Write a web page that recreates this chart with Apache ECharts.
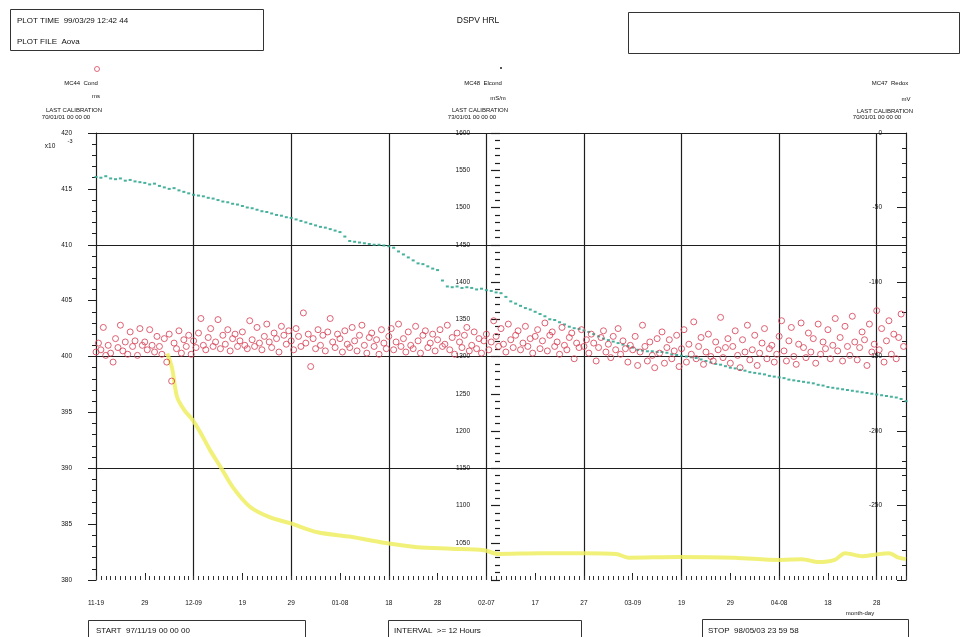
<!DOCTYPE html>
<html>
<head>
<meta charset="utf-8">
<title>DSPV HRL</title>
<script src="https://cdn.jsdelivr.net/npm/echarts@6/dist/echarts.min.js"></script>
<style>
  html, body { margin: 0; padding: 0; background: #ffffff; }
  #chart { width: 963px; height: 637px; }
</style>
</head>
<body>
<div id="chart"></div>
<script>
// Plot period: 97/11/19 00:00 to 98/05/03 23:59, x axis counted in days from start
const START_UTC = Date.UTC(1997, 10, 19);
const PERIOD_DAYS = 166;

// MC44 Cond (x10^-3), sampled every 12 hours from the start
const condStepDays = 0.5;
const condValues = [
  400.4, 401.2, 400.6, 402.6, 400.1, 401.0, 400.3, 399.5, 401.6, 400.8, 402.8, 400.5, 401.3, 400.2, 402.2, 400.9, 401.4, 400.1, 402.5, 401.0,
  401.3, 400.6, 402.4, 401.0, 400.4, 401.8, 400.9, 400.2, 401.6, 399.5, 402.0, 397.8, 401.2, 400.7, 402.3, 400.3, 401.5, 400.9, 401.9, 400.2,
  401.4, 400.8, 402.1, 403.4, 401.0, 400.6, 401.7, 402.5, 400.9, 401.3, 403.3, 400.7, 401.9, 401.1, 402.4, 400.5, 401.6, 402.0, 400.9, 401.4,
  402.2, 401.0, 400.7, 403.2, 401.5, 400.9, 402.6, 401.2, 400.6, 401.8, 402.9, 401.3, 400.8, 402.1, 401.6, 400.4, 402.7, 401.9, 401.1, 402.3,
  401.4, 400.6, 402.5, 401.8, 400.9, 403.9, 401.2, 402.0, 399.1, 401.6, 400.7, 402.4, 401.0, 401.9, 400.5, 402.2, 403.4, 401.3, 400.8, 402.0,
  401.6, 400.4, 402.3, 401.1, 400.8, 402.6, 401.4, 400.5, 401.9, 402.8, 401.0, 400.3, 401.7, 402.1, 400.9, 401.5, 400.2, 402.4, 401.2, 400.7,
  401.8, 402.5, 400.6, 401.3, 402.9, 400.9, 401.6, 400.4, 402.2, 401.0, 400.7, 402.7, 401.4, 400.3, 401.9, 402.3, 400.8, 401.2, 402.0, 400.5,
  401.5, 402.4, 400.9, 401.1, 402.8, 400.6, 401.7, 400.2, 402.1, 401.3, 400.8, 401.9, 402.6, 400.5, 401.0, 402.2, 400.7, 401.6, 400.3, 401.4,
  402.0, 400.6, 401.3, 403.2, 401.8, 400.9, 402.5, 401.1, 400.4, 402.9, 401.5, 400.8, 401.9, 402.3, 400.6, 401.2, 402.7, 400.9, 401.6, 400.3,
  401.8, 402.4, 400.7, 401.4, 403.0, 400.5, 401.9, 402.2, 400.9, 401.3, 400.2, 402.6, 401.0, 400.6, 401.7, 402.1, 399.8, 401.2, 400.8, 402.4,
  400.9, 401.5, 400.3, 402.0, 401.2, 399.6, 400.8, 401.7, 402.3, 400.4, 401.1, 399.9, 401.8, 400.6, 402.5, 400.2, 401.4, 400.7, 399.5, 401.0,
  400.6, 401.8, 399.2, 400.4, 402.8, 400.9, 399.6, 401.3, 400.1, 399.0, 401.6, 400.3, 402.2, 399.4, 400.8, 401.5, 399.8, 400.5, 401.9, 399.1,
  400.7, 402.4, 399.5, 401.1, 400.2, 403.1, 399.8, 400.9, 401.7, 399.3, 400.4, 402.0, 400.0, 399.6, 401.3, 400.6, 403.5, 399.9, 400.8, 401.6,
  399.4, 400.9, 402.3, 400.1, 399.0, 401.5, 400.4, 402.8, 399.7, 400.6, 401.9, 399.2, 400.3, 401.2, 402.5, 399.8, 400.7, 401.0, 399.5, 400.2,
  401.8, 403.2, 400.5, 399.6, 401.4, 402.6, 400.0, 399.3, 401.1, 403.0, 400.8, 399.9, 402.1, 400.4, 401.6, 399.4, 402.9, 400.2, 401.3, 400.7,
  402.4, 399.8, 401.0, 403.4, 400.5, 401.7, 399.6, 402.7, 400.9, 400.1, 403.6, 401.3, 399.7, 400.8, 402.2, 401.5, 399.2, 402.9, 400.4, 401.1,
  404.1, 400.6, 402.5, 399.5, 401.4, 403.2, 400.2, 402.0, 399.8, 401.7, 403.8, 400.9
];

// MC48 Elcond (mS/m), one reading per day
const elcondStepDays = 1;
const elcondValues = [
  1541, 1540, 1542, 1539, 1538, 1539, 1536, 1537, 1535, 1534,
  1533, 1531, 1532, 1529, 1527, 1525, 1526, 1523, 1521, 1519,
  1517, 1516, 1515, 1513, 1512, 1510, 1508, 1507, 1505, 1504,
  1502, 1500, 1499, 1497, 1495, 1494, 1492, 1490, 1489, 1487,
  1486, 1484, 1482, 1480, 1478, 1476, 1474, 1473, 1471, 1469,
  1467, 1461, 1455, 1454, 1453, 1452, 1451, 1450, 1450, 1449,
  1448, 1446, 1441, 1437, 1433, 1429, 1425, 1424, 1421, 1418,
  1416, 1402, 1394, 1393, 1394, 1392, 1393, 1392, 1390, 1391,
  1389, 1388, 1386, 1385, 1380, 1374, 1371, 1368, 1365, 1363,
  1360, 1357, 1354, 1350, 1349, 1346, 1343, 1340, 1338, 1337,
  1335, 1333, 1330, 1327, 1324, 1322, 1320, 1318, 1316, 1314,
  1312, 1309, 1308, 1307, 1307, 1306, 1306, 1305, 1303, 1302,
  1301, 1300, 1299, 1298, 1296, 1294, 1292, 1290, 1289, 1287,
  1285, 1284, 1282, 1281, 1279, 1278, 1277, 1276, 1274, 1273,
  1272, 1271, 1269, 1268, 1267, 1266, 1265, 1264, 1262, 1261,
  1259, 1258, 1257, 1256, 1255, 1254, 1253, 1252, 1251, 1250,
  1249, 1248, 1247, 1246, 1245, 1243, 1240
];

// MC47 Redox (mV), readings by day
const redoxDays = [14.6, 15.6, 16.6, 18.1, 19.9, 21.4, 23.4, 25.5, 28.1, 31.6, 35.7, 39.9, 45.4, 52.2, 59.0, 65.9, 72.7, 79.5, 82.4, 91.2, 100.0, 106.6, 109.1, 119.4, 130.9, 139.9, 144.6, 148.1, 151.4, 153.5, 157.0, 159.6, 162.5, 164.5, 166.0];
const redoxValues = [-148, -158, -177, -186, -193, -201, -213, -224, -238, -251, -258, -262, -268, -271, -275, -278, -279, -280, -282.5, -282, -282, -282.5, -285, -284.5, -285, -286.5, -286, -288, -286.5, -282, -284, -283, -282, -285, -286];

const condData = condValues.map((v, i) => [i * condStepDays, v]);
const elcondData = elcondValues.map((v, i) => [i * elcondStepDays, v]);
const redoxData = redoxValues.map((v, i) => [redoxDays[i], v]);

const FONT = 'Liberation Sans';
const INK = '#1e1e1e';
const pad2 = n => (n < 10 ? '0' : '') + n;
const dayDate = d => new Date(START_UTC + d * 86400000);

// month shown on the first label of each month, day only otherwise
function dayLabel(d) {
  if (d % 10 !== 0) return '';
  const dt = dayDate(d);
  const prev = d > 0 ? dayDate(d - 10) : null;
  if (!prev || prev.getUTCMonth() !== dt.getUTCMonth()) {
    return pad2(dt.getUTCMonth() + 1) + '-' + pad2(dt.getUTCDate());
  }
  return pad2(dt.getUTCDate());
}

function txt(text, x, y, size, align) {
  return {
    type: 'text',
    silent: true,
    style: {
      text: text, x: x, y: y,
      fontFamily: FONT, fontSize: size,
      fill: '#111', textAlign: align || 'left', verticalAlign: 'middle'
    }
  };
}
function box(x, y, w, h) {
  return {
    type: 'rect', silent: true,
    shape: { x: x, y: y, width: w, height: h },
    style: { fill: 'none', stroke: '#333', lineWidth: 1 }
  };
}

const chart = echarts.init(document.getElementById('chart'), null, { renderer: 'canvas' });

chart.setOption({
  animation: false,
  backgroundColor: '#ffffff',
  grid: { left: 96, right: 57, top: 133, bottom: 57, containLabel: false },
  xAxis: [
    {
      // 10-day labels and ticks
      type: 'value', position: 'bottom', min: 0, max: PERIOD_DAYS, interval: 10,
      axisLine: { show: false, onZero: false },
      axisTick: { show: true, inside: true, length: 7, lineStyle: { color: INK } },
      axisLabel: {
        margin: 20, fontFamily: FONT, fontSize: 6.5, color: '#111',
        showMaxLabel: false, formatter: v => dayLabel(v)
      },
      splitLine: { show: false }
    },
    {
      // daily ticks
      type: 'value', position: 'bottom', min: 0, max: PERIOD_DAYS, interval: 1,
      axisLine: { show: false, onZero: false },
      axisTick: { show: true, inside: true, length: 4, lineStyle: { color: '#333' } },
      axisLabel: { show: false },
      splitLine: { show: false }
    },
    {
      // vertical rulings every 20 days
      type: 'value', position: 'bottom', min: 0, max: PERIOD_DAYS, interval: 20,
      axisLine: { show: false, onZero: false }, axisTick: { show: false }, axisLabel: { show: false },
      splitLine: { show: true, showMinLine: false, showMaxLine: false, lineStyle: { color: INK, width: 1.2 } }
    }
  ],
  yAxis: [
    {
      // MC44 Cond, left
      type: 'value', position: 'left', min: 380, max: 420, interval: 5,
      axisLine: { show: true, onZero: false, lineStyle: { color: INK, width: 1.2 } },
      axisTick: { show: true, length: 8, lineStyle: { color: INK } },
      minorTick: { show: true, splitNumber: 5, length: 4, lineStyle: { color: INK } },
      axisLabel: { margin: 24, fontFamily: FONT, fontSize: 6.5, color: '#111' },
      splitLine: { show: false }
    },
    {
      // MC48 Elcond, middle
      type: 'value', position: 'left', offset: -404, min: 1000, max: 1600, interval: 50,
      axisLine: { show: false, onZero: false },
      axisTick: { show: true, length: 9, lineStyle: { color: INK, width: 1.2 } },
      minorTick: { show: true, splitNumber: 5, length: 5, lineStyle: { color: INK, width: 1.2 } },
      axisLabel: {
        margin: 30, fontFamily: FONT, fontSize: 6.5, color: '#111',
        formatter: v => (v === 1000 ? '' : String(v))
      },
      splitLine: { show: false }
    },
    {
      // MC47 Redox, right
      type: 'value', position: 'right', min: -300, max: 0, interval: 50,
      axisLine: { show: true, onZero: false, lineStyle: { color: INK, width: 1.2 } },
      axisTick: { show: true, inside: true, length: 9, lineStyle: { color: INK } },
      minorTick: { show: true, splitNumber: 5, length: 4, lineStyle: { color: INK } },
      axisLabel: {
        inside: true, margin: 24, fontFamily: FONT, fontSize: 6.5, color: '#111',
        formatter: v => (v === -300 ? '' : String(v))
      },
      splitLine: { show: false }
    },
    {
      // horizontal rulings every 10 units of the left scale
      type: 'value', position: 'left', min: 380, max: 420, interval: 10,
      axisLine: { show: false, onZero: false }, axisTick: { show: false }, axisLabel: { show: false },
      splitLine: { show: true, showMinLine: false, lineStyle: { color: INK, width: 1.2 } }
    }
  ],
  series: [
    {
      name: 'MC47 Redox', type: 'line', xAxisIndex: 0, yAxisIndex: 2,
      data: redoxData, smooth: 0.3, showSymbol: false, z: 2,
      lineStyle: { color: '#eeee62', width: 4, opacity: 0.85 }
    },
    {
      name: 'MC48 Elcond', type: 'scatter', xAxisIndex: 0, yAxisIndex: 1,
      data: elcondData, symbol: 'rect', symbolSize: [3, 2], z: 3,
      itemStyle: { color: '#33a892', opacity: 0.9 }
    },
    {
      name: 'MC44 Cond', type: 'scatter', xAxisIndex: 0, yAxisIndex: 0,
      data: condData, symbol: 'circle', symbolSize: 6, z: 4,
      itemStyle: { color: 'rgba(0,0,0,0)', borderColor: '#d8455a', borderWidth: 1, opacity: 0.85 }
    }
  ],
  graphic: [
    box(10.5, 9.5, 253, 41),
    txt('PLOT TIME  99/03/29 12:42 44', 17, 21, 8),
    txt('PLOT FILE  Aova', 17, 42, 8),
    txt('DSPV HRL', 478, 21, 8.5, 'center'),
    box(628.5, 12.5, 331, 41),

    { type: 'circle', silent: true, shape: { cx: 97, cy: 69, r: 2.5 }, style: { fill: 'none', stroke: '#d8455a', lineWidth: 0.8 } },
    txt('MC44  Cond', 81, 83, 6, 'center'),
    txt('ms', 96, 96, 6, 'center'),
    txt('LAST CALIBRATION', 74, 110, 6, 'center'),
    txt('70/01/01 00 00 00', 66, 117, 6, 'center'),
    txt('x10', 50, 146, 6.5, 'center'),
    txt('-3', 70, 141, 5.5, 'center'),

    { type: 'rect', silent: true, shape: { x: 500, y: 67, width: 2, height: 2 }, style: { fill: '#555' } },
    txt('MC48  Elcond', 483, 83, 6, 'center'),
    txt('mS/m', 498, 98, 6, 'center'),
    txt('LAST CALIBRATION', 480, 110, 6, 'center'),
    txt('73/01/01 00 00 00', 472, 117, 6, 'center'),

    txt('MC47  Redox', 890, 83, 6, 'center'),
    txt('mV', 906, 99, 6, 'center'),
    txt('LAST CALIBRATION', 885, 111, 6, 'center'),
    txt('70/01/01 00 00 00', 877, 117, 6, 'center'),

    txt('month-day', 860, 613, 6, 'center'),

    box(88.5, 620.5, 217, 30),
    txt('START  97/11/19 00 00 00', 96, 631, 8),
    box(388.5, 620.5, 193, 30),
    txt('INTERVAL  >= 12 Hours', 394, 631, 8),
    box(702.5, 619.5, 206, 30),
    txt('STOP  98/05/03 23 59 58', 708, 631, 8)
  ]
});
</script>
</body>
</html>
